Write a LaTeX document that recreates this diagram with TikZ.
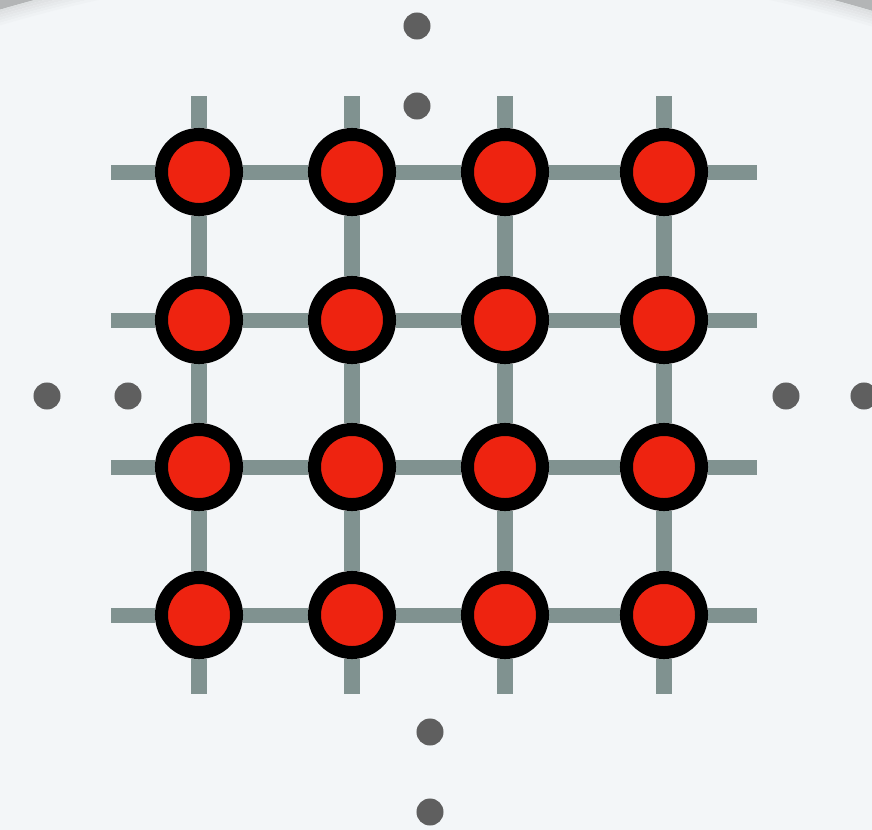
\documentclass[tikz,border=0pt]{standalone}
\usetikzlibrary{backgrounds}
\definecolor{rim}{HTML}{B3B5B6}
\definecolor{paper}{HTML}{F3F6F8}
\definecolor{wire}{HTML}{809290}
\definecolor{qubit}{HTML}{EE2310}
\definecolor{pip}{HTML}{5F5F5F}
\tikzset{
  site/.style={circle, draw=black, fill=qubit, line width=0.13cm, minimum size=0.75cm, inner sep=0pt},
  dot/.style={circle, fill=pip, minimum size=0.27cm, inner sep=0pt},
  wire/.style={draw=wire, line width=0.15cm}
}
\begin{document}
\begin{tikzpicture}[x=0.01cm, y=-0.01cm, line cap=butt]
\useasboundingbox (0,0) rectangle (872,830);
\foreach \x/\c in {199/1, 352/2, 505/3, 664/4}
  \foreach \y/\r in {172/1, 320/2, 467/3, 615/4}
    \node[site] (q\r\c) at (\x,\y) {};
\foreach \x/\c in {199/1, 352/2, 505/3, 664/4} {
  \coordinate (n\c) at (\x,96);
  \coordinate (s\c) at (\x,694);
}
\foreach \y/\r in {172/1, 320/2, 467/3, 615/4} {
  \coordinate (w\r) at (111,\y);
  \coordinate (e\r) at (757,\y);
}
\node[dot] (t1) at (417,26) {};
\node[dot] (t2) at (417,106) {};
\node[dot] (l1) at (47,396) {};
\node[dot] (l2) at (128,396) {};
\node[dot] (r1) at (786,396) {};
\node[dot] (r2) at (864,396) {};
\node[dot] (b1) at (430,732) {};
\node[dot] (b2) at (430,812) {};
\begin{scope}[on background layer]
\clip (0,0) rectangle (872,830);
\fill[rim] (0,0) rectangle (872,830);
\coordinate (c) at (434,1497);
\fill[paper] (c) circle[radius=15.48cm];
\foreach \i in {1,...,6} {
  \pgfmathsetmacro\p{42-6*\i}
  \pgfmathsetmacro\rr{15.48-0.025*\i+0.0125}
  \draw[line width=0.025cm, draw=rim!\p!paper] (c) circle[radius=\rr cm];
}
\foreach \k in {1,...,4} {
  \draw[wire] (w\k) -- (q\k1) -- (q\k2) -- (q\k3) -- (q\k4) -- (e\k);
  \draw[wire] (n\k) -- (q1\k) -- (q2\k) -- (q3\k) -- (q4\k) -- (s\k);
}
\end{scope}
\end{tikzpicture}
\end{document}
